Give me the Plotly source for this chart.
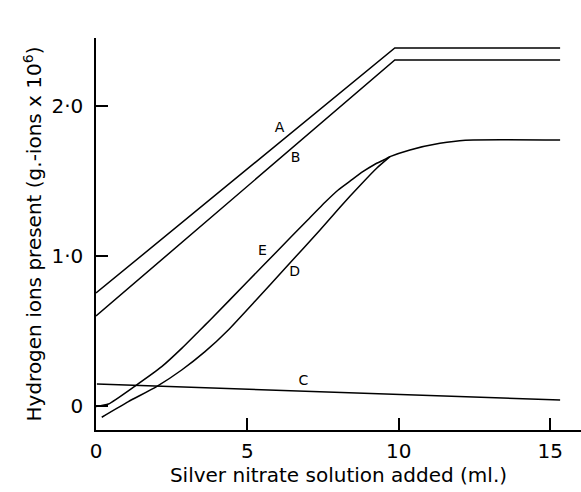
import plotly.graph_objects as go

# Silver nitrate added (ml.) vs hydrogen ions present (g.-ions x 10^6)
a_x = [0.0, 9.87, 15.33]
a_y = [0.753, 2.387, 2.387]

b_x = [0.0, 9.87, 15.33]
b_y = [0.600, 2.307, 2.307]

c_x = [0.03, 15.33]
c_y = [0.147, 0.040]

e_x = [0.0, 0.41, 1.29, 2.17, 2.83, 3.44, 3.77, 5.0, 6.0, 7.0, 7.6, 8.0, 8.4, 8.8, 9.2, 9.5, 9.71, 10.37, 11.36, 12.2, 15.33]
e_y = [-0.004, 0.013, 0.133, 0.262, 0.384, 0.507, 0.573, 0.828, 1.035, 1.242, 1.365, 1.44, 1.50, 1.56, 1.61, 1.64, 1.662, 1.707, 1.751, 1.772, 1.773]

d_x = [0.19, 1.07, 2.0, 2.83, 3.6, 4.37, 5.26, 6.3, 7.4, 8.06, 8.72, 9.27, 9.71]
d_y = [-0.075, 0.029, 0.129, 0.24, 0.362, 0.507, 0.70, 0.93, 1.173, 1.325, 1.47, 1.585, 1.662]

# curve labels
lab_text = ["A", "B", "C", "D", "E"]
lab_x = [6.06, 6.59, 6.85, 6.56, 5.50]
lab_y = [1.847, 1.653, 0.16, 0.887, 1.033]

FONT = "DejaVu Sans"
LINE = dict(color="black", width=1.5)
SMOOTH = dict(color="black", width=1.5, shape="spline", smoothing=0.5)

fig = go.Figure()
for xs, ys, ln in [(a_x, a_y, LINE), (b_x, b_y, LINE), (c_x, c_y, LINE),
                   (e_x, e_y, SMOOTH), (d_x, d_y, SMOOTH)]:
    fig.add_trace(go.Scatter(x=xs, y=ys, mode="lines", line=ln,
                             showlegend=False, hoverinfo="skip"))

fig.add_trace(go.Scatter(x=lab_x, y=lab_y, mode="text", text=lab_text,
                         textfont=dict(family=FONT, size=14, color="black"),
                         showlegend=False, hoverinfo="skip"))

fig.update_layout(
    width=581, height=492,
    margin=dict(l=96, r=0, t=38, b=62),
    paper_bgcolor="white", plot_bgcolor="white",
    font=dict(family=FONT, color="black"),
    xaxis=dict(range=[0, 16.02], tickvals=[0, 5, 10, 15], ticktext=["0", "5", "10", "15"],
               ticks="inside", ticklen=12, tickwidth=1.5, tickcolor="black",
               showline=True, linecolor="black", linewidth=1.5,
               showgrid=False, zeroline=False, ticklabelstandoff=2,
               tickfont=dict(size=20),
               title=dict(text="Silver nitrate solution added (ml.)",
                          font=dict(size=20), standoff=1)),
    yaxis=dict(range=[-0.16, 2.453], tickvals=[0, 1, 2], ticktext=["0", "1·0", "2·0"],
               ticks="inside", ticklen=12, tickwidth=1.5, tickcolor="black",
               showline=True, linecolor="black", linewidth=1.5,
               showgrid=False, zeroline=False, ticklabelstandoff=7,
               tickfont=dict(size=20),
               title=dict(text="Hydrogen ions present (g.-ions x 10<sup>6</sup>)",
                          font=dict(size=20), standoff=4)),
)

fig.write_html("out.html")
